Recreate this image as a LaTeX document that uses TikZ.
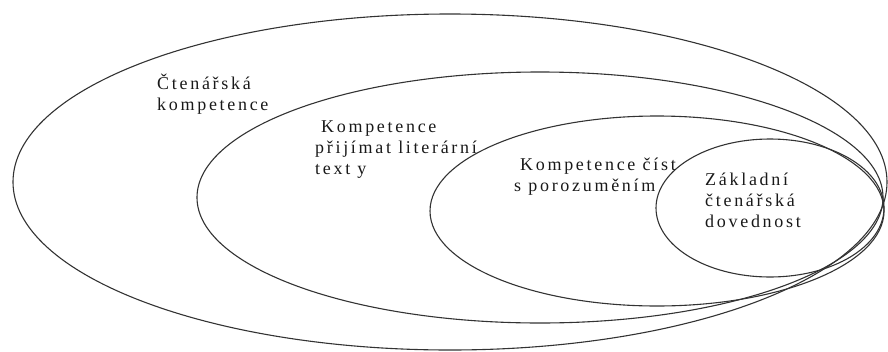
\documentclass[tikz,border=0pt]{standalone}
\usepackage{fontspec}
\setmainfont{Liberation Serif}[LetterSpace=15]
\usetikzlibrary{positioning}

\begin{document}
\begin{tikzpicture}[
    x=1pt, y=-1pt,
    ring/.style={draw=black!80, line width=1.1pt},
    label/.style={anchor=base west, align=left, inner sep=0pt, text=black!90,
        font=\fontsize{18}{21}\selectfont}
]
\useasboundingbox (0,0) rectangle (888,351);

% Ellipses
\draw[ring] (450,182) ellipse [x radius=437pt, y radius=168pt];
\draw[ring] (540,197.5) ellipse [x radius=343pt, y radius=125.5pt];
\draw[ring] (657,211) ellipse [x radius=227pt, y radius=95pt];
\draw[ring] (770,208) ellipse [x radius=114pt, y radius=69pt];

% Labels (anchored at the last baseline)
\node[label] (reading) at (157,110) {Čtenářská\\kompetence};
\node[label] (literary) at (315,174) {\hspace{6pt}Kompetence\\přijímat literární\\text y};
\node[label] (understand) at (514,191) {\hspace{6pt}Kompetence číst\\s porozuměním};
\node[label] (basic) at (705,227) {Základní\\čtenářská\\dovednost};

\end{tikzpicture}
\end{document}
